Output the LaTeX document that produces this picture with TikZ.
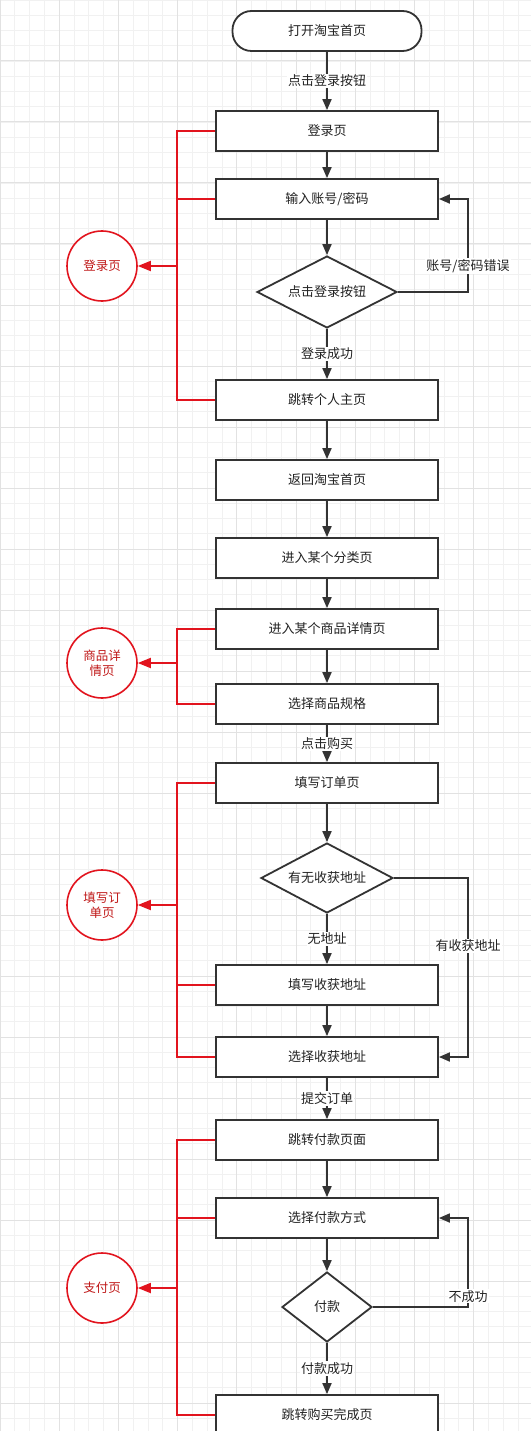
\documentclass[tikz,border=0pt]{standalone}
\usepackage{fontspec}
\setmainfont{Noto Sans CJK SC}
\usetikzlibrary{arrows.meta,shapes.geometric,positioning,calc}
\tikzset{%
  stepbox/.style={rectangle,draw=flowline,line width=1.8pt,fill=white,
    minimum width=222pt,minimum height=40pt,inner sep=0pt,text=flowtext},
  startbox/.style={stepbox,rounded corners=19pt,minimum width=189pt},
  choice/.style={diamond,aspect=2,draw=flowline,line width=1.8pt,fill=white,inner sep=0pt,text=flowtext},
  pagecircle/.style={circle,draw=pagered,line width=1.6pt,fill=white,minimum size=70pt,
    inner sep=0pt,align=center,text=pagetext,font=\fontsize{12.5}{15}\selectfont},
  flow/.style={draw=flowline,line width=1.8pt,-{Triangle[length=11pt,width=9pt]}},
  redline/.style={draw=pagered,line width=1.8pt},
  redarrow/.style={redline,-{Triangle[length=13pt,width=10pt]}},
  lbl/.style={fill=white,inner sep=1pt,text=flowtext}
}

\begin{document}
\begin{tikzpicture}[x=1pt,y=-1pt,font=\fontsize{13}{15}\selectfont]
% ---- colors ----
\definecolor{flowline}{HTML}{333333}   % boxes and arrows
\definecolor{flowtext}{HTML}{222222}   % box text
\definecolor{pagered}{HTML}{E2141E}    % page brackets
\definecolor{pagetext}{HTML}{C01818}   % page circle text
\definecolor{gridminor}{HTML}{F1F1F1}  % fine grid
\definecolor{gridmajor}{HTML}{E2E2E2}  % coarse grid

% geometry
\def\W{531}     % total width
\def\H{1431}    % total height
\def\cx{327}    % flow column
\def\px{102}    % page circles
\def\sx{177}    % red spine
\def\lx{468}    % loop-back column

\useasboundingbox (0,0) rectangle (\W,\H);
\fill[white] (0,0) rectangle (\W,\H);

% ===================== background grid =====================
\foreach \i in {0,...,36}
  \draw[gridminor,line width=0.8pt] (\i*14.8,0) -- (\i*14.8,\H);
\foreach \j in {0,...,94}
  \draw[gridminor,line width=0.8pt] (0,\j*15.25) -- (\W,\j*15.25);
\foreach \i in {0,...,9}
  \draw[gridmajor,line width=1pt] (\i*59.2,0) -- (\i*59.2,\H);
\foreach \j in {0,...,23}
  \draw[gridmajor,line width=1pt] (0,\j*61) -- (\W,\j*61);

% ===================== flow steps =====================
\node[startbox] (start)     at (\cx,31)   {打开淘宝首页};
\node[stepbox]  (login)     at (\cx,131)  {登录页};
\node[stepbox]  (input)     at (\cx,199)  {输入账号/密码};
\node[choice,minimum width=140pt,minimum height=72pt] (dlogin) at (\cx,292) {点击登录按钮};
\node[stepbox]  (home)      at (\cx,400)  {跳转个人主页};
\node[stepbox]  (back)      at (\cx,480)  {返回淘宝首页};
\node[stepbox]  (cat)       at (\cx,558)  {进入某个分类页};
\node[stepbox]  (detail)    at (\cx,629)  {进入某个商品详情页};
\node[stepbox]  (spec)      at (\cx,704)  {选择商品规格};
\node[stepbox]  (order)     at (\cx,783)  {填写订单页};
\node[choice,minimum width=132pt,minimum height=70pt] (daddr) at (\cx,878) {有无收获地址};
\node[stepbox]  (fill)      at (\cx,985)  {填写收获地址};
\node[stepbox]  (choose)    at (\cx,1057) {选择收获地址};
\node[stepbox]  (paypage)   at (\cx,1140) {跳转付款页面};
\node[stepbox]  (paymethod) at (\cx,1218) {选择付款方式};
\node[choice,minimum width=90pt,minimum height=70pt] (dpay) at (\cx,1307) {付款};
\node[stepbox]  (done)      at (\cx,1415) {跳转购买完成页};

% ---- main arrows ----
\draw[flow] (start) -- node[lbl]{点击登录按钮} (login);
\draw[flow] (login) -- (input);
\draw[flow] (input) -- (dlogin);
\draw[flow] (dlogin) -- node[lbl]{登录成功} (home);
\draw[flow] (home) -- (back);
\draw[flow] (back) -- (cat);
\draw[flow] (cat) -- (detail);
\draw[flow] (detail) -- (spec);
\draw[flow] (spec) -- node[lbl]{点击购买} (order);
\draw[flow] (order) -- (daddr);
\draw[flow] (daddr) -- node[lbl]{无地址} (fill);
\draw[flow] (fill) -- (choose);
\draw[flow] (choose) -- node[lbl]{提交订单} (paypage);
\draw[flow] (paypage) -- (paymethod);
\draw[flow] (paymethod) -- (dpay);
\draw[flow] (dpay) -- node[lbl]{付款成功} (done);

% ---- loop-backs ----
\coordinate (loopA) at (\lx,199);
\coordinate (loopB) at (\lx,1057);
\coordinate (loopC) at (\lx,1218);
\draw[flow] (dlogin.east) -| node[lbl,pos=0.64]{账号/密码错误} (loopA) -- (input.east);
\draw[flow] (daddr.east) -| node[lbl,pos=0.69]{有收获地址} (loopB) -- (choose.east);
\draw[flow] (dpay.east) -| node[lbl,pos=0.56]{不成功} (loopC) -- (paymethod.east);

% ===================== page groups =====================
\node[pagecircle] (pg1) at (\px,266)  {登录页};
\node[pagecircle] (pg2) at (\px,663)  {商品详\\情页};
\node[pagecircle] (pg3) at (\px,905)  {填写订\\单页};
\node[pagecircle] (pg4) at (\px,1288) {支付页};

% login page
\draw[redline] (login.west) -| (\sx,266) |- (home.west);
\draw[redline] (input.west) -- (input.west -| \sx,0);
\coordinate (sp1) at (\sx,266);
\draw[redarrow] (sp1) -- (pg1.east);
% item detail page
\draw[redline] (detail.west) -| (\sx,663) |- (spec.west);
\coordinate (sp2) at (\sx,663);
\draw[redarrow] (sp2) -- (pg2.east);
% order page
\draw[redline] (order.west) -| (\sx,905) |- (choose.west);
\draw[redline] (fill.west) -- (fill.west -| \sx,0);
\coordinate (sp3) at (\sx,905);
\draw[redarrow] (sp3) -- (pg3.east);
% payment page
\draw[redline] (paypage.west) -| (\sx,1288) |- (done.west);
\draw[redline] (paymethod.west) -- (paymethod.west -| \sx,0);
\coordinate (sp4) at (\sx,1288);
\draw[redarrow] (sp4) -- (pg4.east);

\end{tikzpicture}
\end{document}
